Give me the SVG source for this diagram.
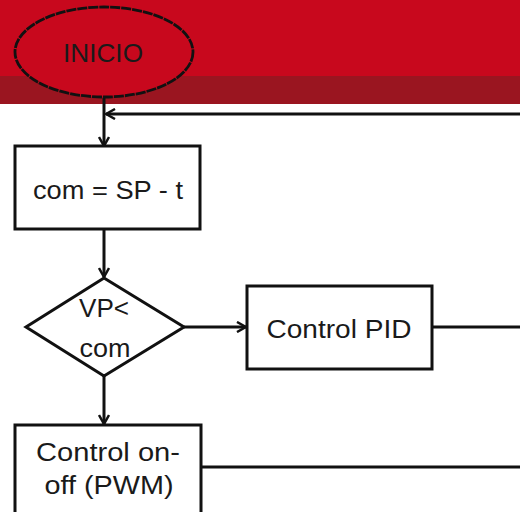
<svg xmlns="http://www.w3.org/2000/svg" width="520" height="512" viewBox="0 0 520 512">
<defs>
<style>
.box{fill:#fff;stroke:#111;stroke-width:3}
.t{font-family:"Liberation Sans","DejaVu Sans",sans-serif;font-size:26px;fill:#1a1a1a;text-anchor:middle}
.c{fill:none;stroke:#111;stroke-width:3}
</style>
<marker id="ah" viewBox="0 0 12 12" refX="11" refY="6" markerWidth="12" markerHeight="12" markerUnits="userSpaceOnUse" orient="auto">
<path d="M2,1 L11,6 L2,11" fill="none" stroke="#111" stroke-width="2.5"/>
</marker>
</defs>
<rect x="0" y="0" width="520" height="76" fill="#C8081D"/>
<rect x="0" y="76" width="520" height="28" fill="#9A1520"/>
<g id="connectors">
<path class="c" d="M104,98 V146" marker-end="url(#ah)"/>
<path class="c" d="M520,114 H106" marker-end="url(#ah)"/>
<path class="c" d="M104,229 V277" marker-end="url(#ah)"/>
<path class="c" d="M184,327 H246" marker-end="url(#ah)"/>
<path class="c" d="M104,376 V424" marker-end="url(#ah)"/>
<path class="c" d="M432,327 H520"/>
<path class="c" d="M201,467 H520"/>
</g>
<g id="inicio">
<ellipse cx="104" cy="52" rx="89" ry="45" fill="#C8081D" stroke="#111" stroke-width="2.8" stroke-dasharray="10 1"/>
<text class="t" x="103" y="62" textLength="80" lengthAdjust="spacingAndGlyphs">INICIO</text>
</g>
<g id="com">
<rect class="box" x="15" y="146" width="185" height="83"/>
<text class="t" x="108" y="199" textLength="150" lengthAdjust="spacingAndGlyphs">com = SP - t</text>
</g>
<g id="decision">
<polygon class="box" points="104,278 184,327 104,376 26,327"/>
<text class="t" x="104" y="317" textLength="50" lengthAdjust="spacingAndGlyphs">VP&lt;</text>
<text class="t" x="105" y="357" textLength="51" lengthAdjust="spacingAndGlyphs">com</text>
</g>
<g id="pid">
<rect class="box" x="247" y="286" width="185" height="83"/>
<text class="t" x="339" y="338" textLength="145" lengthAdjust="spacingAndGlyphs">Control PID</text>
</g>
<g id="onoff">
<rect class="box" x="15" y="425" width="186" height="100"/>
<text class="t" x="108" y="461" textLength="144" lengthAdjust="spacingAndGlyphs">Control on-</text>
<text class="t" x="109" y="494" textLength="129" lengthAdjust="spacingAndGlyphs">off (PWM)</text>
</g>
</svg>
